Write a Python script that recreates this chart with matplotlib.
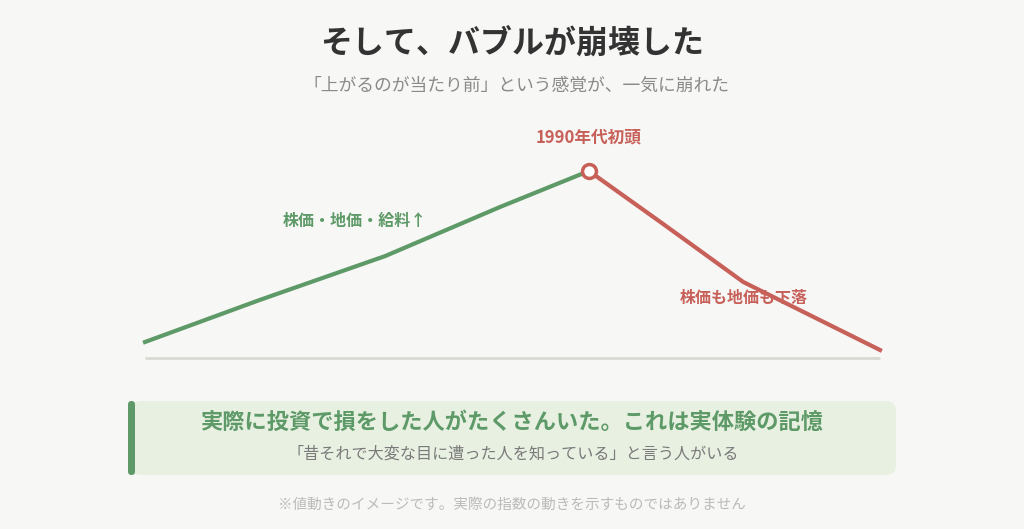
import matplotlib.pyplot as plt
from matplotlib.patches import FancyBboxPatch

plt.rcParams['font.family'] = ['Noto Sans CJK JP', 'DejaVu Sans']

# ------------------------ dane ------------------------
# oś x: czas (0 = start, 1 = koniec), oś y: poziom cen (umowny)
x_wzrost = [0.0, 0.156, 0.327, 0.483, 0.604]
y_wzrost = [16, 58, 102, 151, 187]
x_spadek = [0.604, 0.705, 0.814, 1.0]
y_spadek = [187, 134, 76, 8]

tytul = 'そして、バブルが崩壊した'
podtytul = '「上がるのが当たり前」という感覚が、一気に崩れた'
etykieta_szczyt = '1990年代初頭'
etykieta_wzrost = '株価・地価・給料↑'
etykieta_spadek = '株価も地価も下落'
ramka_1 = '実際に投資で損をした人がたくさんいた。これは実体験の記憶'
ramka_2 = '「昔それで大変な目に遭った人を知っている」と言う人がいる'
przypis = '※値動きのイメージです。実際の指数の動きを示すものではありません'

tlo = '#f7f7f5'
zielony = '#5e9a68'
czerwony = '#c8605a'

W, H = 1024, 529
fig = plt.figure(figsize=(W / 100, H / 100), dpi=100, facecolor=tlo)

# warstwa w pikselach na teksty i ramkę
bg = fig.add_axes([0, 0, 1, 1])
bg.set_xlim(0, W)
bg.set_ylim(H, 0)
bg.axis('off')
bg.set_facecolor(tlo)

bg.text(512, 45, tytul, ha='center', va='center', fontsize=23,
        fontweight='bold', color='#333333')
bg.text(516, 86, podtytul, ha='center', va='center', fontsize=12.8,
        color='#8a8a8a')

# ramka z komentarzem
bg.add_patch(FancyBboxPatch((131, 401), 765, 74,
                            boxstyle='round,pad=0,rounding_size=10',
                            facecolor='#e8f0e2', edgecolor='none'))
bg.add_patch(FancyBboxPatch((128, 401), 7, 74,
                            boxstyle='round,pad=0,rounding_size=3.5',
                            facecolor=zielony, edgecolor='none'))
bg.text(512, 422, ramka_1, ha='center', va='center', fontsize=16,
        fontweight='bold', color=zielony)
bg.text(513, 454, ramka_2, ha='center', va='center', fontsize=11.6,
        color='#7a7a7a')
bg.text(512, 505, przypis, ha='center', va='center', fontsize=10.5,
        color='#bbbbbb')

# wykres
ax = fig.add_axes([145 / W, (H - 358) / H, 735 / W, 238 / H])
ax.set_xlim(0, 1)
ax.set_ylim(0, 238)
ax.axis('off')
ax.patch.set_alpha(0)

ax.plot([0, 1], [0, 0], color='#d9d9d3', lw=2, solid_capstyle='butt', clip_on=False)
ax.plot(x_wzrost, y_wzrost, color=zielony, lw=3, solid_joinstyle='round', clip_on=False)
ax.plot(x_spadek, y_spadek, color=czerwony, lw=3, solid_joinstyle='round', clip_on=False)
ax.plot(x_wzrost[-1], y_wzrost[-1], 'o', ms=10, mfc='white', mec=czerwony,
        mew=2.5, clip_on=False, zorder=5)

ax.text(x_wzrost[-1], y_wzrost[-1] + 34, etykieta_szczyt, ha='center', va='center',
        fontsize=12, fontweight='bold', color=czerwony)
ax.text(0.286, 137, etykieta_wzrost, ha='center', va='center',
        fontsize=11.5, fontweight='bold', color=zielony)
ax.text(0.814, 60, etykieta_spadek, ha='center', va='center',
        fontsize=11.5, fontweight='bold', color=czerwony)

plt.savefig('out.png', dpi=100, facecolor=tlo)
